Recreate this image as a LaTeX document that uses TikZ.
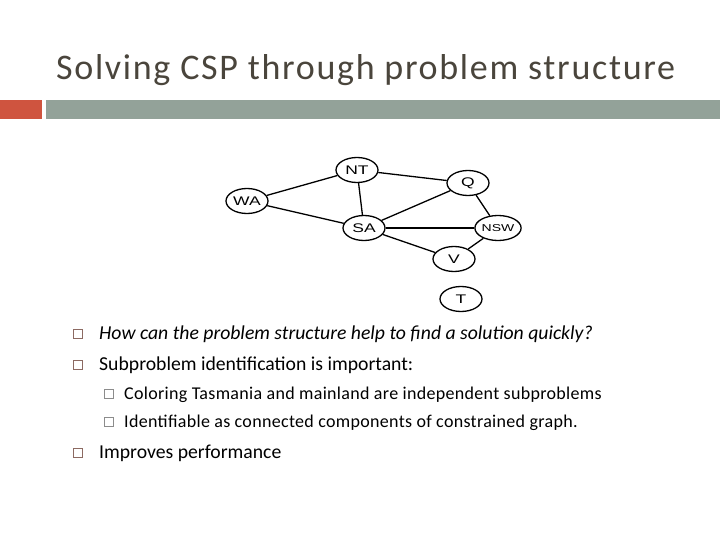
\documentclass[tikz,border=0pt]{standalone}
\usepackage{xcolor}
\usepackage{fontspec}
\usepackage{tikz}
\usetikzlibrary{shapes.geometric}
\setmainfont{Carlito}
\newfontfamily\titlefont[LetterSpace=4.7]{Carlito}
\newfontfamily\subfont[LetterSpace=1.75]{Carlito}
\newfontfamily\graphfont[FakeStretch=1.4]{Liberation Sans}
\definecolor{barred}{HTML}{CF543F}
\definecolor{bargrey}{HTML}{93A299}
\definecolor{titleink}{HTML}{4A453C}
\definecolor{tickbrown}{HTML}{8C6A62}
\tikzset{
  region/.style={ellipse,draw,line width=1.3pt,minimum width=42pt,minimum height=25pt,inner sep=0pt,font=\graphfont\fontsize{12.5}{12.5}\selectfont},
  link/.style={line width=1.3pt},
  textline/.style={anchor=base west,inner sep=0pt,font=\fontsize{19.7}{20}\selectfont},
  subline/.style={anchor=base west,inner sep=0pt,font=\subfont\fontsize{18}{18}\selectfont},
  tick/.style={draw=tickbrown,line width=0.9pt,minimum size=8.5pt,inner sep=0pt},
  subtick/.style={draw=black!45,line width=0.8pt,minimum size=8.5pt,inner sep=0pt}
}
\begin{document}
\begin{tikzpicture}[x=1pt,y=-1pt]
    \useasboundingbox (0, 0) rectangle (720, 540);
    % header
    \fill[barred] (0, 100) rectangle (42, 119);
    \fill[bargrey] (46, 100) rectangle (720, 119);
    \node[anchor=base west,inner sep=0pt,text=titleink,font=\titlefont\fontsize{36}{36}\selectfont] (title) at (56, 80) {Solving CSP through problem structure};
    % graph
    \node[region] (wa) at (247, 201) {WA};
    \node[region] (nt) at (357, 170) {NT};
    \node[region] (q) at (468, 183) {Q};
    \node[region] (sa) at (364, 228) {SA};
    \node[region,font=\graphfont\fontsize{10}{10}\selectfont] (nsw) at (498, 228) {NSW};
    \node[region] (v) at (454, 259) {V};
    \node[region] (t) at (461, 299) {T};
    \foreach \from/\to in {wa/nt, wa/sa, nt/sa, nt/q, sa/q, sa/nsw, sa/v, q/nsw, nsw/v}
      \draw[link] (\from) -- (\to);
    % text
    \node[tick] (b1) at (78, 334) {};
    \node[tick] (b2) at (78, 365) {};
    \node[tick] (b3) at (78, 453) {};
    \node[subtick] (s1) at (109, 394) {};
    \node[subtick] (s2) at (109, 422) {};
    \node[textline] (l1) at (99, 339) {\itshape How can the problem structure help to find a solution quickly?};
    \node[textline] (l2) at (99, 370) {Subproblem identification is important:};
    \node[subline] (l3) at (124, 399) {Coloring Tasmania and mainland are independent subproblems};
    \node[subline] (l4) at (124, 427) {Identifiable as connected components of constrained graph.};
    \node[textline] (l5) at (99, 458) {Improves performance};
  \end{tikzpicture}
\end{document}
